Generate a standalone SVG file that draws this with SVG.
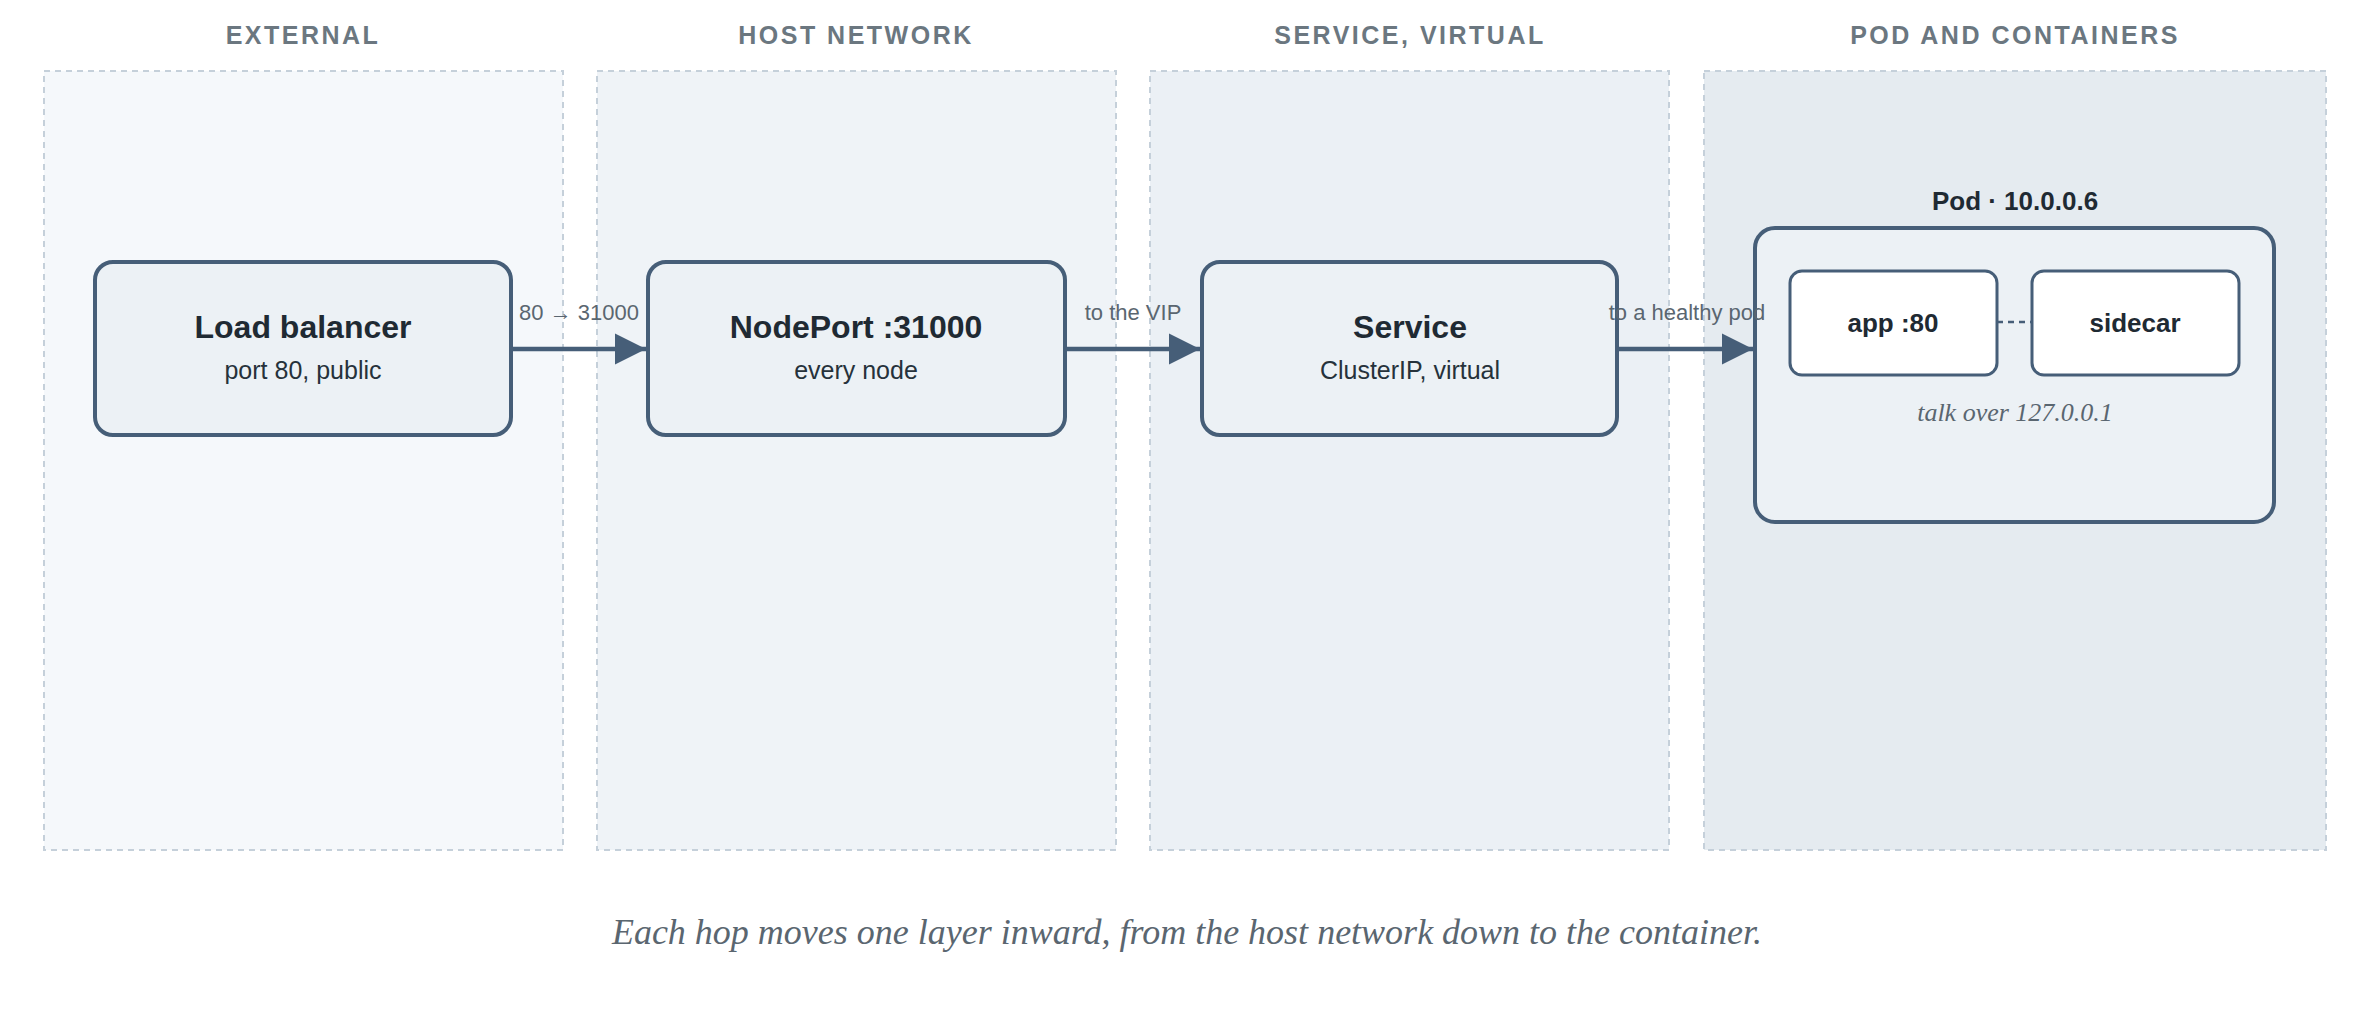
<svg xmlns="http://www.w3.org/2000/svg" width="2358" height="1030" viewBox="0 0 2358 1030">
<style>
.lane{stroke:#c5d0da;stroke-width:2;stroke-dasharray:6 5}
.hdr{font:bold 25px "Liberation Sans",Arial,sans-serif;fill:#6b7780;letter-spacing:2.5px;text-anchor:middle}
.node{fill:#ecf1f5;stroke:#465e78;stroke-width:4}
.inner{fill:#ffffff;stroke:#465e78;stroke-width:3}
.t{font:bold 32px "Liberation Sans",Arial,sans-serif;fill:#1f2a33;text-anchor:middle}
.t2{font:bold 26px "Liberation Sans",Arial,sans-serif;fill:#1f2a33;text-anchor:middle}
.s{font:25px "Liberation Sans",Arial,sans-serif;fill:#26323b;text-anchor:middle}
.el{font:22px "Liberation Sans",Arial,sans-serif;fill:#5a6670;text-anchor:middle}
.edge{stroke:#465e78;stroke-width:4.5;fill:none}
</style>
<defs><marker id="ah" markerWidth="8" markerHeight="8" refX="7" refY="4" orient="auto" markerUnits="strokeWidth"><path d="M0,0.5 L7,4 L0,7.5 Z" fill="#465e78"/></marker></defs>
<rect width="2358" height="1030" fill="#ffffff"/>
<g id="lanes">
<rect class="lane" x="44" y="71" width="519" height="779" fill="#f5f8fb"/>
<rect class="lane" x="597" y="71" width="519" height="779" fill="#eff3f7"/>
<rect class="lane" x="1150" y="71" width="519" height="779" fill="#ebf0f5"/>
<rect class="lane" x="1704" y="71" width="622" height="779" fill="#e5ebf0"/>
<text class="hdr" x="303" y="44">EXTERNAL</text>
<text class="hdr" x="856" y="44">HOST NETWORK</text>
<text class="hdr" x="1410" y="44">SERVICE, VIRTUAL</text>
<text class="hdr" x="2015" y="44">POD AND CONTAINERS</text>
</g>
<g id="lb"><rect class="node" x="95" y="262" width="416" height="173" rx="18"/><text class="t" x="303" y="338">Load balancer</text><text class="s" x="303" y="379">port 80, public</text></g>
<g id="nodeport"><rect class="node" x="648" y="262" width="417" height="173" rx="18"/><text class="t" x="856" y="338">NodePort :31000</text><text class="s" x="856" y="379">every node</text></g>
<g id="service"><rect class="node" x="1202" y="262" width="415" height="173" rx="18"/><text class="t" x="1410" y="338">Service</text><text class="s" x="1410" y="379">ClusterIP, virtual</text></g>
<g id="pod"><text class="t2" x="2015" y="210">Pod · 10.0.0.6</text><rect class="node" x="1755" y="228" width="519" height="294" rx="20"/>
<text x="2015" y="421" font-family="Liberation Serif,serif" font-style="italic" font-size="26" fill="#5a6670" text-anchor="middle">talk over 127.0.0.1</text></g>
<g id="app"><rect class="inner" x="1790" y="271" width="207" height="104" rx="12"/><text class="t2" x="1893" y="332">app :80</text></g>
<g id="sidecar"><rect class="inner" x="2032" y="271" width="207" height="104" rx="12"/><text class="t2" x="2135" y="332">sidecar</text></g>
<g id="connectors">
<path class="edge" d="M511,349 H646" marker-end="url(#ah)"/>
<path class="edge" d="M1065,349 H1200" marker-end="url(#ah)"/>
<path class="edge" d="M1617,349 H1753" marker-end="url(#ah)"/>
<path d="M1997,322 H2032" stroke="#465e78" stroke-width="2.5" stroke-dasharray="6 5"/>
<text class="el" x="579" y="320">80 → 31000</text>
<text class="el" x="1133" y="320">to the VIP</text>
<text class="el" x="1687" y="320">to a healthy pod</text>
</g>
<text x="1187" y="944" font-family="Liberation Serif,serif" font-style="italic" font-size="36" fill="#5a6670" text-anchor="middle">Each hop moves one layer inward, from the host network down to the container.</text>
</svg>
